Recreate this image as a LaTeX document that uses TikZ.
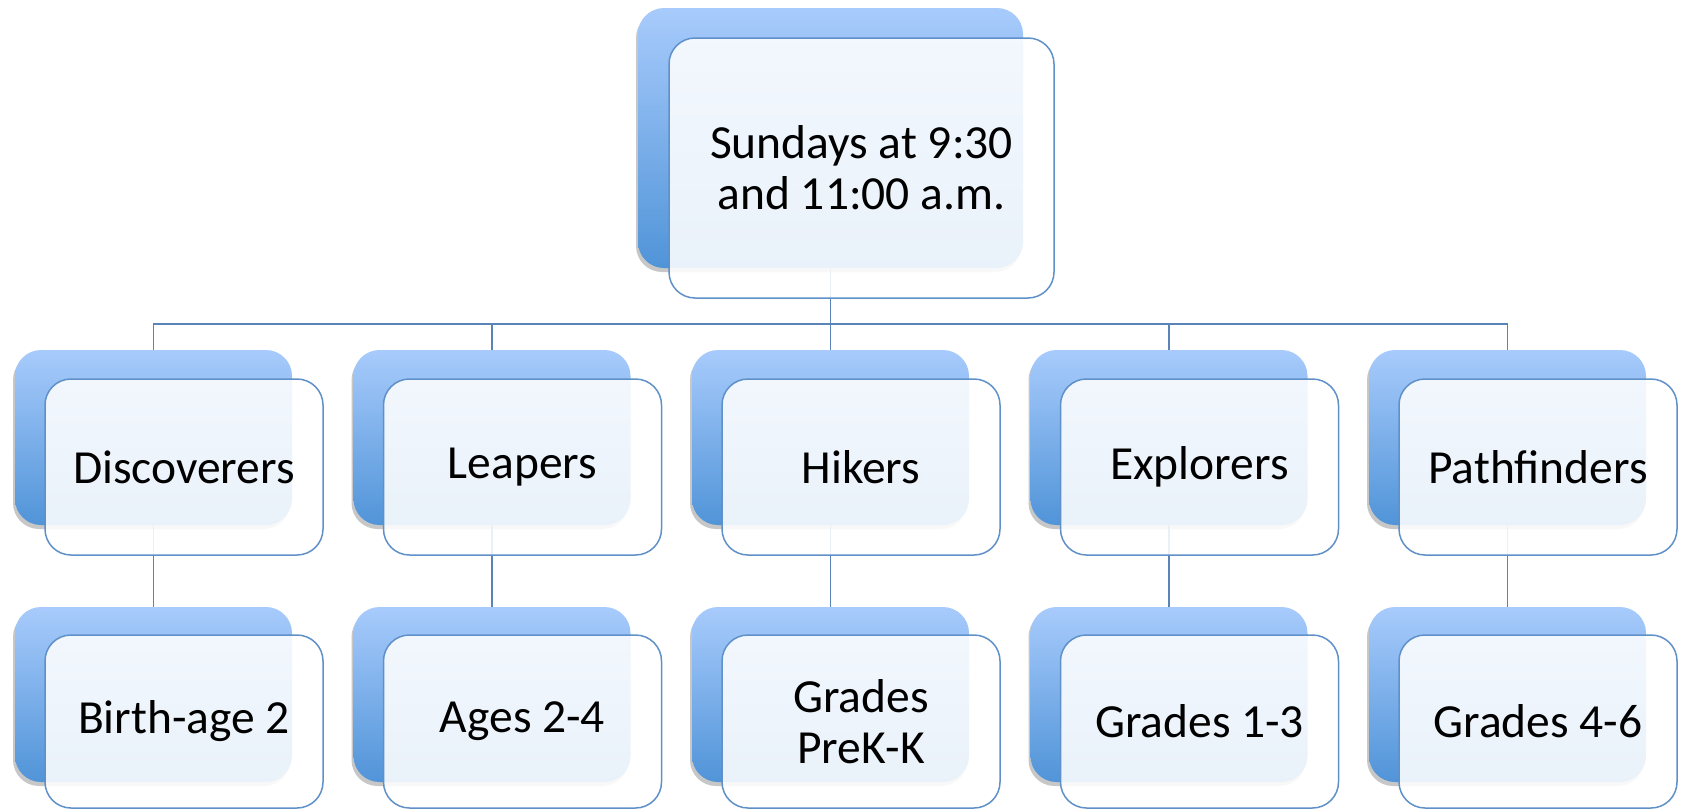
\documentclass[tikz,border=0pt]{standalone}
\usepackage{fontspec}
\setmainfont{Carlito}
\usetikzlibrary{shadows}
\definecolor{backtop}{HTML}{A8CBFC}
\definecolor{backbot}{HTML}{5094D8}
\definecolor{edgeblue}{HTML}{5F90C8}
\definecolor{linkblue}{HTML}{5A84B8}
\tikzset{
  backbox/.style={rectangle, rounded corners=26pt, minimum width=277pt, minimum height=175pt,
    top color=backtop, bottom color=backbot, draw=none, inner sep=0pt,
    drop shadow={shadow xshift=-2pt, shadow yshift=-4pt, opacity=0.22, fill=black}},
  rootback/.style={backbox, minimum width=385pt, minimum height=260pt},
  frontbox/.style={rectangle, rounded corners=26pt, minimum width=278pt, minimum height=176pt,
    fill=white, fill opacity=0.88, text opacity=1, draw=edgeblue, line width=1.5pt,
    align=center, font=\fontsize{47.5}{51}\selectfont, inner sep=0pt},
  rootfront/.style={frontbox, minimum width=385pt, minimum height=260pt},
  gfront/.style={frontbox, minimum height=173pt},
  link/.style={draw=linkblue, line width=1.6pt}
}
\begin{document}
\begin{tikzpicture}[x=1pt,y=-1pt]
\useasboundingbox (0,0) rectangle (1683,809);
% back boxes
\node[rootback] (rb) at (830.5,138) {};
\node[backbox] (cb1) at (153.5,437.5) {};
\node[backbox] (cb2) at (492,437.5) {};
\node[backbox] (cb3) at (830.5,437.5) {};
\node[backbox] (cb4) at (1169,437.5) {};
\node[backbox] (cb5) at (1507.5,437.5) {};
\node[backbox] (gb1) at (153.5,694.5) {};
\node[backbox] (gb2) at (492,694.5) {};
\node[backbox] (gb3) at (830.5,694.5) {};
\node[backbox] (gb4) at (1169,694.5) {};
\node[backbox] (gb5) at (1507.5,694.5) {};
% connectors
\coordinate (bus) at (830.5,324);
\foreach \i in {1,...,5}{
  \draw[link] (rb.south) -- (rb.south |- bus) -| (cb\i.north);
  \draw[link] (cb\i.south) -- (gb\i.north);
}
% front boxes
\node[rootfront] (rf) at (861.5,168) {Sundays at 9:30\\and 11:00 a.m.};
\node[frontbox] (cf1) at (184,467) {Discoverers};
\node[frontbox] (cf2) at (522.5,467) {Leapers};
\node[frontbox] (cf3) at (861,467) {Hikers};
\node[frontbox] (cf4) at (1199.5,467) {Explorers};
\node[frontbox] (cf5) at (1538,467) {Pathfinders};
\node[gfront] (gf1) at (184,721.5) {Birth-age 2};
\node[gfront] (gf2) at (522.5,721.5) {Ages 2-4};
\node[gfront] (gf3) at (861,721.5) {Grades\\PreK-K};
\node[gfront] (gf4) at (1199.5,721.5) {Grades 1-3};
\node[gfront] (gf5) at (1538,721.5) {Grades 4-6};
\end{tikzpicture}
\end{document}
